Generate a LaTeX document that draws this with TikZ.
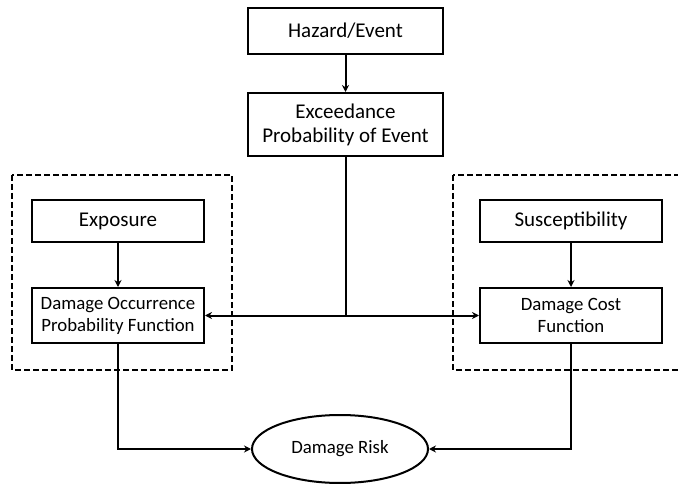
\documentclass[tikz,border=0pt]{standalone}
\usepackage{fontspec}
\setmainfont{Carlito}
\usepackage{tikz}
\usetikzlibrary{arrows.meta,shapes.geometric}

\tikzset{
  stagebox/.style={draw, line width=2pt, inner sep=0pt, align=center,
                   font=\fontsize{21}{24}\selectfont},
  funcbox/.style={draw, line width=2pt, inner sep=0pt, align=center,
                  font=\fontsize{18.8}{22}\selectfont},
  groupbox/.style={line width=1.6pt, dash pattern=on 6pt off 3pt},
  flow/.style={line width=2pt, ->},
}

\begin{document}
\begin{tikzpicture}[x=1pt, y=-1pt, >={Stealth[length=7pt,width=7pt]}]

    \useasboundingbox (0,0) rectangle (678,484);

    % ── Top chain ────────────────────────────────────────────────────────────
    \node[stagebox, minimum width=195pt, minimum height=46pt] (hazard)
        at (345.5,31) {Hazard/Event};
    \node[stagebox, minimum width=195pt, minimum height=63pt] (exceed)
        at (345.5,124.5) {Exceedance\\Probability of Event};

    % ── Left group: exposure ─────────────────────────────────────────────────
    \draw[groupbox] (12,175) rectangle (232,370);
    \node[stagebox, minimum width=172pt, minimum height=42pt] (exposure)
        at (118,221) {Exposure};
    \node[funcbox, minimum width=172pt, minimum height=55pt] (occur)
        at (118,315.5) {Damage Occurrence\\Probability Function};

    % ── Right group: susceptibility ──────────────────────────────────────────
    \draw[groupbox] (453,175) rectangle (700,370);
    \node[stagebox, minimum width=182pt, minimum height=42pt] (suscept)
        at (571,221) {Susceptibility};
    \node[funcbox, minimum width=182pt, minimum height=55pt] (cost)
        at (571,315.5) {Damage Cost\\Function};

    % ── Result ───────────────────────────────────────────────────────────────
    \node[ellipse, draw, line width=2pt, inner sep=0pt,
          minimum width=176pt, minimum height=68pt,
          font=\fontsize{18.8}{22}\selectfont] (risk)
        at (340,449) {Damage Risk};

    % ── Connectors ───────────────────────────────────────────────────────────
    \coordinate (split) at (exceed.south |- occur.east);
    \draw[flow] (hazard) -- (exceed);
    \draw[flow] (exposure) -- (occur);
    \draw[flow] (suscept) -- (cost);
    \draw[line width=2pt] (exceed.south) -- (split);
    \draw[flow] (split) -- (occur.east);
    \draw[flow] (split) -- (cost.west);
    \draw[flow] (occur.south) |- (risk.west);
    \draw[flow] (cost.south) |- (risk.east);

  \end{tikzpicture}
\end{document}
